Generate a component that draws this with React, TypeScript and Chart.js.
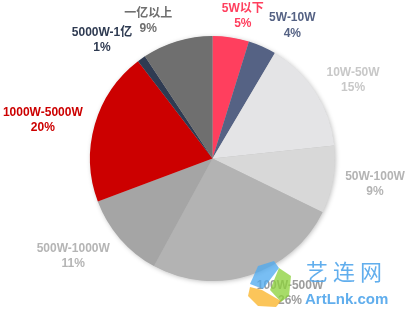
import React, { useEffect, useRef } from "react";
import { Chart, registerables } from "chart.js";

Chart.register(...registerables);

const categories = ["5W以下", "5W-10W", "10W-50W", "50W-100W", "100W-500W", "500W-1000W", "1000W-5000W", "5000W-1亿", "一亿以上"];
const shares = [4.8, 3.7, 14.8, 8.9, 25.7, 11.35, 20.3, 1.1, 9.3];
const sliceColors = ["#FF3F5E", "#556284", "#E4E4E6", "#D8D8D8", "#B3B3B3", "#A5A5A5", "#CC0000", "#2F3B52", "#6F6F6F"];
const labelColors = ["#FF3F5E", "#556284", "#C8C8C8", "#B4B4B4", "#9C9C9C", "#B5B5B5", "#CC0000", "#2F3B52", "#6F6F6F"];

// label layout: polar position (degrees clockwise from top, distance from pie centre)
const labelAngles = [12, 31, 60.8, 98.9, 150, 235, 282.8, 317, 335];
const labelDists = [146, 155, 161, 164.5, 155, 170, 174, 162, 152];

const FONT = "'Liberation Sans', Arial, 'Noto Sans CJK SC', sans-serif";

const shadowPlugin = {
  id: "pieShadow",
  beforeDatasetsDraw(chart: any) {
    const meta = chart.getDatasetMeta(0);
    const arc = meta.data[0];
    if (!arc) return;
    const ctx = chart.ctx;
    ctx.save();
    ctx.shadowColor = "rgba(0,0,0,0.28)";
    ctx.shadowBlur = 5;
    ctx.shadowOffsetX = 1;
    ctx.shadowOffsetY = 1;
    ctx.fillStyle = "#bbbbbb";
    ctx.beginPath();
    ctx.arc(arc.x, arc.y, arc.outerRadius - 0.5, 0, Math.PI * 2);
    ctx.fill();
    ctx.restore();
  },
};

function quad(ctx: CanvasRenderingContext2D, pts: number[][], color: string) {
  ctx.beginPath();
  ctx.moveTo(pts[0][0], pts[0][1]);
  for (let k = 1; k < pts.length; k++) ctx.lineTo(pts[k][0], pts[k][1]);
  ctx.closePath();
  ctx.fillStyle = color;
  ctx.fill();
}

const labelPlugin = {
  id: "outerLabels",
  afterDatasetsDraw(chart: any) {
    const meta = chart.getDatasetMeta(0);
    const ctx = chart.ctx;
    const data = chart.data.datasets[0].data as number[];
    const total = data.reduce((a: number, b: number) => a + b, 0);
    ctx.save();
    ctx.font = `bold 12px ${FONT}`;
    ctx.textAlign = "center";
    ctx.textBaseline = "middle";
    meta.data.forEach((arc: any, i: number) => {
      const a = (labelAngles[i] * Math.PI) / 180;
      const cx = arc.x + Math.sin(a) * labelDists[i];
      const cy = arc.y - Math.cos(a) * labelDists[i];
      ctx.fillStyle = labelColors[i];
      ctx.fillText(String(chart.data.labels[i]), cx, cy - 7.5);
      ctx.fillText(Math.round((data[i] / total) * 100) + "%", cx, cy + 8);
    });
    ctx.restore();

    // watermark logo + text
    ctx.save();
    ctx.globalAlpha = 0.85;
    quad(ctx, [[258, 266], [274, 261], [279, 268], [263, 289], [250, 284]], "rgba(80,170,240,0.9)");
    quad(ctx, [[279, 268], [291, 276], [289, 296], [281, 302], [270, 290]], "rgba(140,210,60,0.9)");
    quad(ctx, [[250, 287], [262, 290], [281, 301], [276, 307], [258, 306], [248, 296]], "rgba(250,180,40,0.9)");
    ctx.restore();

    ctx.save();
    ctx.fillStyle = "rgba(80,165,235,0.9)";
    ctx.textAlign = "left";
    ctx.textBaseline = "middle";
    ctx.font = `22px 'Noto Sans CJK SC', sans-serif`;
    ["艺", "连", "网"].forEach((ch, k) => ctx.fillText(ch, 306 + k * 27, 272));
    ctx.font = `bold 15px ${FONT}`;
    ctx.fillText("ArtLnk.com", 305, 300);
    ctx.restore();
  },
};

export default function App() {
  const ref = useRef<HTMLCanvasElement>(null);
  useEffect(() => {
    if (!ref.current) return;
    const chart = new Chart(ref.current, {
      type: "pie",
      data: {
        labels: categories,
        datasets: [
          {
            data: shares,
            backgroundColor: sliceColors,
            borderWidth: 0,
          },
        ],
      },
      options: {
        animation: false,
        responsive: true,
        maintainAspectRatio: false,
        layout: { padding: { left: 90, right: 74, top: 36, bottom: 29 } },
        plugins: { legend: { display: false }, tooltip: { enabled: false } },
      },
      plugins: [shadowPlugin, labelPlugin],
    });
    return () => chart.destroy();
  }, []);
  return (
    <div style={{ position: "fixed", left: 0, top: 0, width: 409, height: 310, background: "#fff" }}>
      <canvas ref={ref} />
    </div>
  );
}
